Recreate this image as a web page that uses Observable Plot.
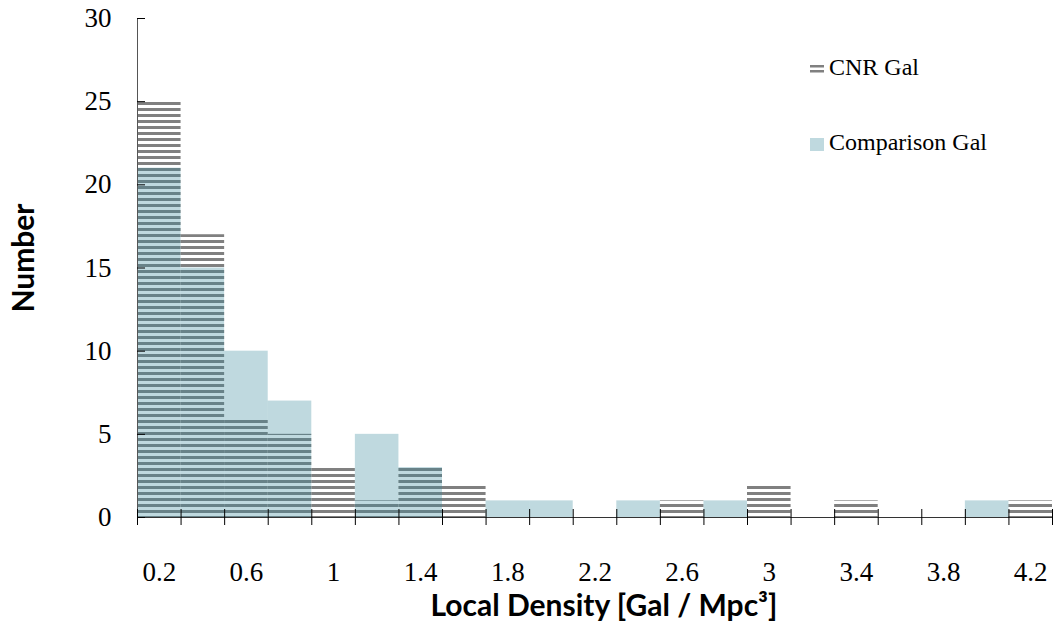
<!DOCTYPE html>
<html><head><meta charset="utf-8">
<script src="https://cdn.jsdelivr.net/npm/d3@7"></script>
<script src="https://cdn.jsdelivr.net/npm/@observablehq/plot@0.6"></script>
<style>
body{margin:0;background:#fff}
#wrap{position:relative;width:1053px;height:622px;overflow:hidden}
.leg{position:absolute;font-family:"Liberation Serif",serif;font-size:24px;color:#000;white-space:nowrap;line-height:1}
.title{position:absolute;font-family:Lato,sans-serif;font-weight:bold;font-size:30px;color:#000;white-space:nowrap;line-height:1}
</style></head><body><div id="wrap"></div>
<script>
const categories = [0.2,0.4,0.6,0.8,1.0,1.2,1.4,1.6,1.8,2.0,2.2,2.4,2.6,2.8,3.0,3.2,3.4,3.6,3.8,4.0,4.2];
const cnrGal =        [25,17,6,5,3,1,3,2,0,0,0,0,1,0,2,0,1,0,0,0,1];
const comparisonGal = [21,15,10,7,0,5,3,0,1,1,0,1,0,1,0,0,0,0,0,1,0];
const xTickLabels = ["0.2","0.6","1","1.4","1.8","2.2","2.6","3","3.4","3.8","4.2"];
const yTicks = [0,5,10,15,20,25,30];
const seriesNames = ["CNR Gal","Comparison Gal"];
const xTitle = "Local Density [Gal / Mpc³]";
const yTitle = "Number";

const w = categories[1]-categories[0];
const data = categories.map((c,i)=>({x:c, cnr:cnrGal[i], comp:comparisonGal[i]}));
const bounds = [categories[0]-w/2, ...categories.map(c=>c+w/2)];
const labelVals = xTickLabels.map(Number);

const plot = Plot.plot({
  width:1053, height:622,
  marginLeft:137, marginRight:1, marginTop:18, marginBottom:105,
  x:{domain:[bounds[0], bounds[bounds.length-1]], axis:null},
  y:{domain:[0,30], axis:null},
  style:{fontFamily:"'Liberation Serif', serif", fontSize:"27px", color:"#000", background:"#fff"},
  marks:[
    Plot.rectY(data,{x1:d=>d.x-w/2, x2:d=>d.x+w/2, y:"cnr", fill:"url(#stripes)"}),
    Plot.rectY(data,{x1:d=>d.x-w/2, x2:d=>d.x+w/2, y:"comp", fill:"#34869a", fillOpacity:0.315}),
    Plot.frame({anchor:"left", stroke:"#555"}),
    Plot.frame({anchor:"bottom", stroke:"#333"}),
    Plot.axisY({ticks:yTicks, tickSize:0, tickPadding:26, tickFormat:d=>String(d)}),
    Plot.axisY({ticks:yTicks, tickSize:-8, tickFormat:()=>""}),
    Plot.axisX({ticks:bounds, tickSize:8, tickFormat:()=>""}),
    Plot.axisX({ticks:bounds, tickSize:-8, tickFormat:()=>""}),
    Plot.axisX({ticks:labelVals, tickSize:0, tickPadding:44, tickFormat:(d,i)=>xTickLabels[i]})
  ]
});
const ns="http://www.w3.org/2000/svg";
const defs=document.createElementNS(ns,"defs");
defs.innerHTML=`<pattern id="stripes" patternUnits="userSpaceOnUse" x="0" y="18" width="10" height="6"><rect x="0" y="0" width="10" height="3" fill="#808080"/></pattern>`;
plot.prepend(defs);
const wrap=document.getElementById("wrap");
wrap.appendChild(plot);

function add(cls, html, css){const d=document.createElement("div");d.className=cls;d.innerHTML=html;Object.assign(d.style,css);wrap.appendChild(d);return d;}
add("leg", `<svg width="14" height="12" style="vertical-align:middle;margin-right:5px"><rect x="0" y="2" width="14" height="2.5" fill="#808080"/><rect x="0" y="7" width="14" height="2.5" fill="#808080"/></svg>${seriesNames[0]}`, {left:"810px", top:"55px"});
add("leg", `<svg width="14" height="13" style="vertical-align:middle;margin-right:5px"><rect x="0" y="0" width="14" height="13" fill="#bfd9df"/></svg>${seriesNames[1]}`, {left:"810px", top:"130px"});
add("title", xTitle, {left:"604px", top:"589px", transform:"translateX(-50%)"});
add("title", yTitle, {left:"22px", top:"258px", transform:"translate(-50%,-50%) rotate(-90deg)"});
</script></body></html>
